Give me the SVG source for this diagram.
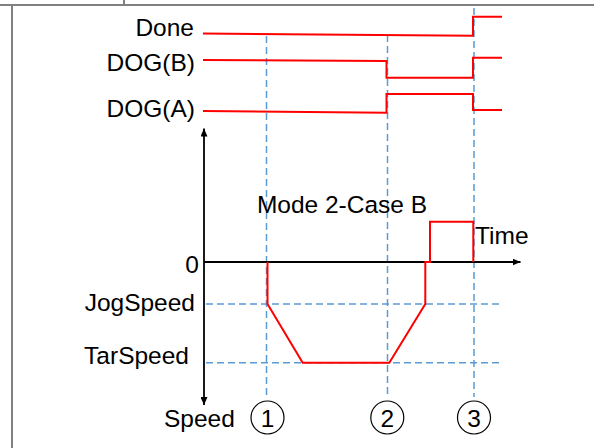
<svg xmlns="http://www.w3.org/2000/svg" width="594" height="448" viewBox="0 0 594 448">
<defs>
<style>
.t{font-family:"Liberation Sans",Arial,sans-serif;font-size:24.5px;fill:#000}
.r{text-anchor:end}
.m{text-anchor:middle}
.sig{fill:none;stroke:#ff0000;stroke-width:2;stroke-linejoin:miter}
.grid{fill:none;stroke:#5b9bd5;stroke-width:1.5;stroke-dasharray:7 4}
.axis{fill:none;stroke:#000;stroke-width:1.8}
.frame{fill:none;stroke:#808080;stroke-width:2}
.circ{fill:none;stroke:#000;stroke-width:1.2}
</style>
<marker id="ah" viewBox="0 0 10 10" refX="10" refY="5" markerWidth="8" markerHeight="7" markerUnits="userSpaceOnUse" orient="auto-start-reverse" preserveAspectRatio="none">
<path d="M0,0 L10,5 L0,10 z" fill="#000"/>
</marker>
</defs>
<g id="frame">
<line class="frame" x1="0" y1="5" x2="594" y2="5"/>
<line class="frame" x1="124" y1="0" x2="124" y2="5"/>
<line class="frame" x1="12" y1="5" x2="12" y2="448"/>
</g>
<g id="connectors">
<line class="grid" x1="266.5" y1="36" x2="266.5" y2="397"/>
<line class="grid" x1="387.5" y1="35" x2="387.5" y2="397"/>
<line class="grid" x1="474" y1="8" x2="474" y2="397"/>
<line class="grid" x1="206" y1="304" x2="503" y2="304"/>
<line class="grid" x1="206" y1="362.7" x2="503" y2="362.7"/>
<line class="axis" x1="204" y1="128.5" x2="204" y2="405" marker-start="url(#ah)" marker-end="url(#ah)"/>
<line class="axis" x1="204" y1="262" x2="520.5" y2="262" marker-end="url(#ah)"/>
</g>
<g id="done-signal">
<text class="t r" x="194" y="36">Done</text>
<polyline class="sig" points="203,33.5 473,35.7 473,16.7 502,16.7"/>
</g>
<g id="dogb-signal">
<text class="t r" x="195" y="71">DOG(B)</text>
<polyline class="sig" points="203,60 386.5,61 386.5,77.7 473,77.7 473,57.7 502,57.7"/>
</g>
<g id="doga-signal">
<text class="t r" x="195" y="116.5">DOG(A)</text>
<polyline class="sig" points="203,111 386.5,112.7 386.5,94 473,94 473,110 502,110"/>
</g>
<g id="speed-profile">
<polyline class="sig" points="267.5,262 267.5,304 302.7,362.7 389.3,362.7 425.3,304 425.3,262 430,262 430,221.7 473.3,221.7 473.3,262"/>
</g>
<g id="labels">
<text class="t m" x="342" y="212.5">Mode 2-Case B</text>
<text class="t" x="475" y="244">Time</text>
<text class="t r" x="199" y="272.5">0</text>
<text class="t r" x="195" y="311">JogSpeed</text>
<text class="t r" x="189" y="363.5">TarSpeed</text>
<text class="t" x="164" y="426.7">Speed</text>
</g>
<g id="marker-1">
<circle class="circ" cx="267.5" cy="417.5" r="16.5"/>
<text class="t m" x="267.5" y="426.5">1</text>
</g>
<g id="marker-2">
<circle class="circ" cx="387.3" cy="417.5" r="16.5"/>
<text class="t m" x="387.3" y="426.5">2</text>
</g>
<g id="marker-3">
<circle class="circ" cx="474" cy="417.5" r="16.5"/>
<text class="t m" x="474" y="426.5">3</text>
</g>
</svg>
